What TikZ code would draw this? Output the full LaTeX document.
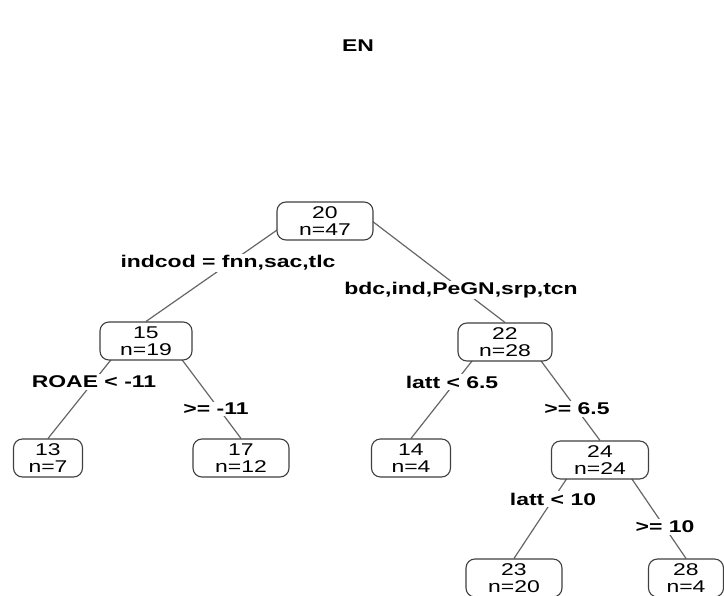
\documentclass[tikz,border=0pt]{standalone}
\usepackage{fontspec}
\setmainfont[FakeStretch=1.35]{Liberation Sans}
\usetikzlibrary{calc,backgrounds}
\begin{document}
\begin{tikzpicture}[x=1pt,y=-1pt,
  leaf/.style={draw=black!75, line width=1.1pt, rounded corners=9pt, fill=white, align=center,
    minimum height=38pt, inner sep=0pt, font=\fontsize{17}{16.5}\selectfont},
  split/.style={fill=white, inner sep=1.5pt, font=\fontsize{17}{17}\selectfont\bfseries},
  branch/.style={draw=black!60, line width=1.2pt}]
\useasboundingbox (0,0) rectangle (724,596);
\node[font=\fontsize{17}{17}\selectfont\bfseries] (title) at (358,46) {EN};
% tree nodes
\node[leaf, minimum width=96pt] (root) at (325,221) {20\\n=47};
\node[leaf, minimum width=92pt] (n15) at (146,341) {15\\n=19};
\node[leaf, minimum width=94pt] (n22) at (505,342) {22\\n=28};
\node[leaf, minimum width=69pt] (n13) at (48,458) {13\\n=7};
\node[leaf, minimum width=96pt] (n17) at (241,458) {17\\n=12};
\node[leaf, minimum width=79pt] (n14) at (411,458) {14\\n=4};
\node[leaf, minimum width=97pt] (n24) at (600,460) {24\\n=24};
\node[leaf, minimum width=96pt] (n23) at (514,578) {23\\n=20};
\node[leaf, minimum width=75pt] (n28) at (686,578) {28\\n=4};
% split labels
\node[split] (s1) at (228,263) {indcod = fnn,sac,tlc};
\node[split] (s2) at (461,290) {bdc,ind,PeGN,srp,tcn};
\node[split] (s3) at (94,382) {ROAE < -11};
\node[split] (s4) at (216,409) {>= -11};
\node[split] (s5) at (452,382) {latt < 6.5};
\node[split] (s6) at (577,409) {>= 6.5};
\node[split] (s7) at (553,499) {latt < 10};
\node[split] (s8) at (665,527) {>= 10};
% branches
\begin{scope}[on background layer]
\coordinate (rL) at ($(root.center)+(-35,0)$);
\coordinate (rR) at ($(root.center)+(47,0)$);
\coordinate (aL) at ($(n15.center)+(-20,0)$);
\coordinate (aR) at ($(n15.center)+(22,0)$);
\coordinate (bL) at ($(n22.center)+(-18,0)$);
\coordinate (bR) at ($(n22.center)+(22,0)$);
\coordinate (cL) at ($(n24.center)+(-21,0)$);
\coordinate (cR) at ($(n24.center)+(19,0)$);
\draw[branch] (rL) -- (n15.north);
\draw[branch] (rR) -- (n22.north);
\draw[branch] (aL) -- (n13.north);
\draw[branch] (aR) -- (n17.north);
\draw[branch] (bL) -- (n14.north);
\draw[branch] (bR) -- (n24.north);
\draw[branch] (cL) -- (n23.north);
\draw[branch] (cR) -- (n28.north);
\end{scope}
\end{tikzpicture}
\end{document}
